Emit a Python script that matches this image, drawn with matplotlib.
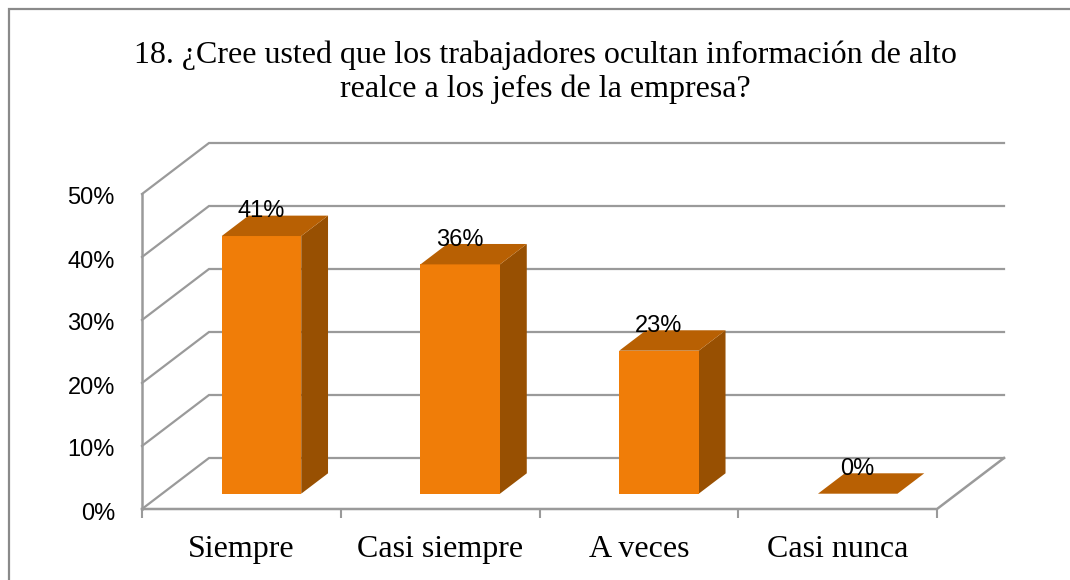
import matplotlib
matplotlib.use("Agg")
import matplotlib.pyplot as plt
from matplotlib.patches import Polygon, Rectangle
from matplotlib.transforms import ScaledTranslation

categories = ["Siempre", "Casi siempre", "A veces", "Casi nunca"]
values = [40.9, 36.4, 22.7, 0]
value_labels = ["41%", "36%", "23%", "0%"]
y_ticks = [0, 10, 20, 30, 40, 50]
y_tick_labels = ["0%", "10%", "20%", "30%", "40%", "50%"]
title = "18. ¿Cree usted que los trabajadores ocultan información de alto\nrealce a los jefes de la empresa?"

W, H = 1070, 580
GRID = "#9a9a9a"
FRONT = "#f07d08"
TOP = "#b86003"
SIDE = "#985002"

# fake 3d: the axes is the front plane, depth is a shift in data units
DX = 67 / (795 / 4)
DY = 51 / (315 / 50)
BAR_W = 0.4


def shift(x, y, d):
    return x + DX * d, y + DY * d


fig = plt.figure(figsize=(W / 100, H / 100), dpi=100)
bg = fig.add_axes([0, 0, 1, 1])
bg.set_xlim(0, W)
bg.set_ylim(H, 0)
bg.axis("off")
# outer frame, only top and left are inside the picture
bg.plot([9, 9, W], [H, 9, 9], color="#8a8a8a", lw=1.6, solid_joinstyle="miter")

ax = fig.add_axes([142 / W, 1 - 509 / H, 795 / W, 315 / H])
ax.set_xlim(0, 4)
ax.set_ylim(0, 50)
ax.patch.set_alpha(0)
for s in ax.spines.values():
    s.set_visible(False)

# back wall grid + left wall diagonals
for v in y_ticks:
    x0, y0 = shift(0, v, 1)
    x1, y1 = shift(4, v, 1)
    ax.plot([0, x0, x1], [v, y0, y1], color=GRID, lw=1.6, clip_on=False, solid_joinstyle="miter")
ax.plot([0, 0], [0, 50], color=GRID, lw=1.8, clip_on=False)
ax.plot([0, 4, shift(4, 0, 1)[0]], [0, 0, shift(4, 0, 1)[1]], color=GRID, lw=1.8, clip_on=False)

# bars
for i, v in enumerate(values):
    left = i + 0.5 - BAR_W / 2
    right = left + BAR_W
    x0, y0 = shift(left, 0, 0.3)
    x1, _ = shift(right, 0, 0.3)
    y1 = y0 + v
    bx0, by0 = shift(left, v, 0.7)
    bx1, by1 = shift(right, v, 0.7)
    if v > 0:
        sx, sy = shift(right, 0, 0.7)
        ax.add_patch(Polygon([(x1, y0), (sx, sy), (bx1, by1), (x1, y1)], fc=SIDE, ec="none", clip_on=False, zorder=3))
        ax.add_patch(Rectangle((x0, y0), x1 - x0, v, fc=FRONT, ec="none", clip_on=False, zorder=3))
    ax.add_patch(Polygon([(x0, y1), (x1, y1), (bx1, by1), (bx0, by0)], fc=TOP, ec="none", clip_on=False, zorder=3))
    ax.text((x0 + x1) / 2, by1 + 0.7, value_labels[i], ha="center", va="center",
            family="Liberation Sans", fontsize=17, color="black", zorder=4)

ax.set_xticks(range(5))
ax.set_xticklabels([])
ax.set_yticks(y_ticks)
ax.set_yticklabels(y_tick_labels, family="Liberation Sans", fontsize=17)
ax.tick_params(axis="x", length=6.5, width=1.5, color=GRID)
ax.tick_params(axis="y", length=0, pad=19.5)
# labels sit a little lower than the tick position
for lab in ax.get_yticklabels():
    lab.set_transform(lab.get_transform() + ScaledTranslation(0, -2 / 100, fig.dpi_scale_trans))

for i, c in enumerate(categories):
    ax.text(i + 0.5, -6.5, c, ha="center", va="center", family="Liberation Serif", fontsize=23, color="black")

fig.text(545 / W, 1 - 72 / H, title, ha="center", va="center", family="Liberation Serif",
         fontsize=23, linespacing=1.2, color="black")

fig.savefig("out.png", dpi=100)
